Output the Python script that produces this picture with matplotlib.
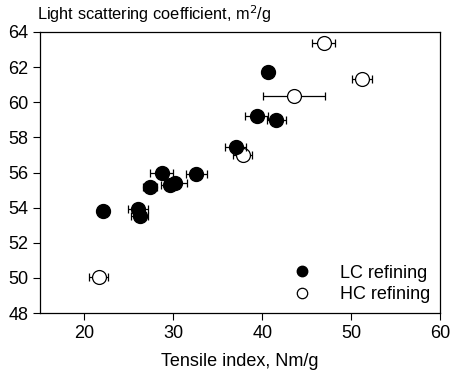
import matplotlib
matplotlib.use('Agg')
import matplotlib.pyplot as plt
import numpy as np

plt.rcParams['font.family'] = ['Liberation Sans', 'DejaVu Sans']

# LC refining (filled)
lc_x = [40.6, 39.4, 41.6, 37.0, 32.6, 28.7, 27.4, 29.6, 30.2, 22.1, 26.0, 26.2]
lc_y = [61.7, 59.2, 59.0, 57.45, 55.9, 55.95, 55.2, 55.3, 55.4, 53.8, 53.95, 53.55]
lc_err = [0.5, 1.3, 1.1, 1.2, 1.2, 1.3, 0.8, 1.0, 1.3, 0.3, 1.1, 1.0]

# HC refining (open)
hc_x = [46.9, 51.2, 43.6, 37.8, 21.6]
hc_y = [63.35, 61.3, 60.35, 57.0, 50.05]
hc_err = [1.3, 1.1, 3.5, 1.1, 1.1]

fig = plt.figure(figsize=(4.52, 3.83), dpi=100, facecolor='w')
ax = fig.add_axes([40/452, 1-313/383, 400/452, 281/383])

ax.errorbar(lc_x, lc_y, xerr=lc_err, ls='', marker='o', ms=10, mfc='k', mec='k',
            ecolor='k', elinewidth=0.9, capsize=3.2, capthick=0.9, label='LC refining', zorder=3)
ax.errorbar(hc_x, hc_y, xerr=hc_err, ls='', marker='o', ms=10, mfc='w', mec='k', mew=0.9,
            ecolor='k', elinewidth=0.9, capsize=3.2, capthick=0.9, label='HC refining', zorder=2)

ax.set_xlim(15, 60)
ax.set_ylim(48, 64)
ax.set_xticks([20, 30, 40, 50, 60])
ax.set_yticks(np.arange(48, 65, 2))
ax.tick_params(direction='out', length=5, width=0.8, labelsize=13, top=False, right=False)
for s in ax.spines.values():
    s.set_linewidth(0.9)

ax.set_xlabel('Tensile index, Nm/g', size=13, labelpad=8)
fig.text(37/452, 1-14/383, r'Light scattering coefficient, m$^2$/g', size=11.8, va='center', ha='left')

h, l = ax.get_legend_handles_labels()
h = [x[0] for x in h]
ax.legend(h, l, loc='lower right', frameon=False, fontsize=13, handletextpad=1.1,
          markerscale=0.75, borderaxespad=0.15, labelspacing=0.25)

fig.savefig('out.png', dpi=100, facecolor='w')
